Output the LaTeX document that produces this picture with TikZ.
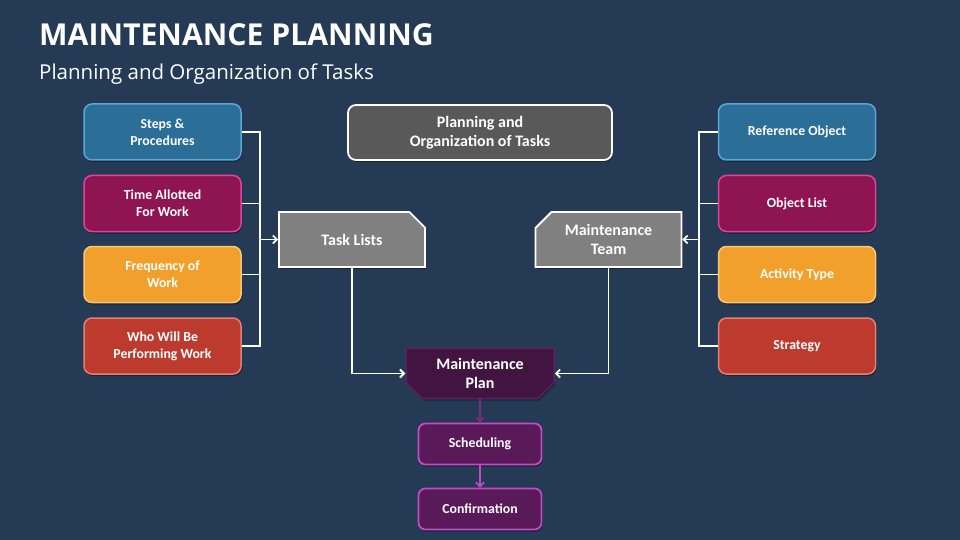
\documentclass[tikz,border=0pt]{standalone}
\usepackage{fontspec}
\setmainfont{Carlito}
\newfontfamily\opensans{Open Sans}
\usetikzlibrary{shapes.misc,arrows.meta,shadows}
\definecolor{bg}{HTML}{243A55}
\definecolor{blueF}{HTML}{2B6E97}
\definecolor{blueD}{HTML}{5BA6D6}
\definecolor{magF}{HTML}{8E1452}
\definecolor{magD}{HTML}{E0449A}
\definecolor{orF}{HTML}{F0A02B}
\definecolor{orD}{HTML}{F8C877}
\definecolor{redF}{HTML}{BD3A2F}
\definecolor{redD}{HTML}{E38075}
\definecolor{greyF}{HTML}{808080}
\definecolor{dgreyF}{HTML}{595959}
\definecolor{planF}{HTML}{421541}
\definecolor{planD}{HTML}{5F2160}
\definecolor{schF}{HTML}{5A1A5A}
\definecolor{schD}{HTML}{C14AC6}
\definecolor{arrP}{HTML}{7B2C7A}
\begin{document}
\begin{tikzpicture}[x=1pt,y=-1pt,
  shade/.style={drop shadow={shadow xshift=1pt,shadow yshift=-2pt,opacity=.35,fill=black}},
  txt/.style={text=white,font=\fontsize{13.8}{17}\selectfont\bfseries,align=center},
  bigtxt/.style={text=white,font=\fontsize{16}{19}\selectfont\bfseries,align=center},
  sidebox/.style={txt,shade,rounded corners=8pt,line width=1.5pt,minimum width=157pt,minimum height=56pt,inner sep=2pt},
  bluebox/.style={sidebox,fill=blueF,draw=blueD},
  magbox/.style={sidebox,fill=magF,draw=magD},
  orbox/.style={sidebox,fill=orF,draw=orD},
  redbox/.style={sidebox,fill=redF,draw=redD},
  hubbox/.style={bigtxt,shade,chamfered rectangle,chamfered rectangle xsep=8pt,chamfered rectangle ysep=8pt,fill=greyF,draw=white,line width=1.8pt,minimum width=146pt,minimum height=55pt,inner sep=2pt},
  purbox/.style={txt,shade,rounded corners=7pt,fill=schF,draw=schD,line width=1.8pt,minimum width=123pt,minimum height=41pt,inner sep=2pt},
  wire/.style={draw=white,line width=1.8pt},
  tip/.style={-{Straight Barb[length=4pt,width=8pt]}}
]
\useasboundingbox (0,0) rectangle (960,540);
\fill[bg] (0,0) rectangle (960,540);

\node[anchor=base west,inner sep=0pt,text=white,font=\opensans\fontsize{30.2}{32}\selectfont\bfseries] (title) at (39,46) {MAINTENANCE PLANNING};
\node[anchor=base west,inner sep=0pt,text=white,font=\opensans\fontsize{20.5}{22}\selectfont] (sub) at (39,80) {Planning and Organization of Tasks};

% left column
\node[bluebox] (steps) at (162.5,132) {Steps \&\\Procedures};
\node[magbox] (time) at (162.5,203.5) {Time Allotted\\For Work};
\node[orbox] (freq) at (162.5,274.5) {Frequency of\\Work};
\node[redbox] (who) at (162.5,346) {Who Will Be\\Performing Work};

% right column
\node[bluebox] (ref) at (797,132) {Reference Object};
\node[magbox] (obj) at (797,203.5) {Object List};
\node[orbox] (act) at (797,274.5) {Activity Type};
\node[redbox] (strat) at (797,346) {Strategy};

% centre
\node[bigtxt,shade,rounded corners=8pt,fill=dgreyF,draw=white,line width=1.8pt,minimum width=264pt,minimum height=55pt] (poot) at (480,132.5) {Planning and\\Organization of Tasks};
\node[hubbox,chamfered rectangle corners=north east] (task) at (352,239.5) {Task Lists};
\node[hubbox,chamfered rectangle corners=north west] (team) at (608.5,239.5) {Maintenance\\Team};
\node[bigtxt,shade,chamfered rectangle,chamfered rectangle corners={south west,south east},chamfered rectangle xsep=8pt,chamfered rectangle ysep=8pt,fill=planF,draw=planD,line width=1.5pt,minimum width=148pt,minimum height=49pt,inner sep=2pt] (plan) at (480,373.5) {Maintenance\\Plan};
\node[purbox] (sched) at (480,444) {Scheduling};
\node[purbox] (conf) at (480,509) {Confirmation};

% left bus
\coordinate (lbus) at (260,239.5);
\draw[wire] (steps.east) -| (lbus);
\draw[wire] (who.east) -| (lbus);
\draw[wire] (time.east) -- (time.east -| lbus);
\draw[wire] (freq.east) -- (freq.east -| lbus);
\draw[wire,tip] (lbus) -- (task.west);

% right bus
\coordinate (rbus) at (699,239.5);
\draw[wire] (ref.west) -| (rbus);
\draw[wire] (strat.west) -| (rbus);
\draw[wire] (obj.west) -- (obj.west -| rbus);
\draw[wire] (act.west) -- (act.west -| rbus);
\draw[wire,tip] (rbus) -- (team.east);

% to plan
\draw[wire,tip] (task.south) |- (plan.west);
\draw[wire,tip] (team.south) |- (plan.east);

% down chain
\draw[draw=arrP,line width=1.8pt,tip] (plan.south) -- (sched.north);
\draw[draw=schD,line width=1.8pt,tip] (sched.south) -- (conf.north);
\end{tikzpicture}
\end{document}
